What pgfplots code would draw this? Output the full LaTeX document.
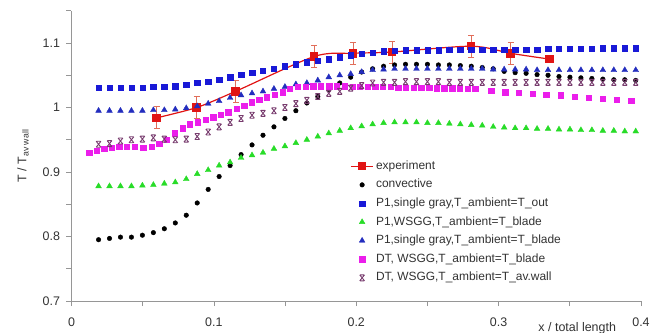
\documentclass[border=0pt]{standalone}
\usepackage{pgfplots}
\pgfplotsset{compat=1.18}
\usepackage{pgfplotstable}
\usepackage{fontspec}
\setmainfont{Liberation Sans}

\definecolor{cBlueSq}{RGB}{25,25,215}
\definecolor{cBlueTri}{RGB}{35,45,190}
\definecolor{cGreen}{RGB}{40,220,40}
\definecolor{cMag}{RGB}{235,30,235}
\definecolor{cPur}{RGB}{120,60,110}
\definecolor{cRed}{RGB}{225,20,20}
\definecolor{cErr}{RGB}{225,110,90}
\definecolor{cAxis}{RGB}{150,150,150}
\definecolor{cText}{RGB}{50,50,50}

\pgfdeclareplotmark{hx}{%
  \pgfpathmoveto{\pgfqpoint{-0.8\pgfplotmarksize}{-\pgfplotmarksize}}%
  \pgfpathlineto{\pgfqpoint{0.8\pgfplotmarksize}{\pgfplotmarksize}}%
  \pgfpathmoveto{\pgfqpoint{-0.8\pgfplotmarksize}{\pgfplotmarksize}}%
  \pgfpathlineto{\pgfqpoint{0.8\pgfplotmarksize}{-\pgfplotmarksize}}%
  \pgfpathmoveto{\pgfqpoint{-0.7\pgfplotmarksize}{\pgfplotmarksize}}%
  \pgfpathlineto{\pgfqpoint{0.7\pgfplotmarksize}{\pgfplotmarksize}}%
  \pgfpathmoveto{\pgfqpoint{-0.7\pgfplotmarksize}{-\pgfplotmarksize}}%
  \pgfpathlineto{\pgfqpoint{0.7\pgfplotmarksize}{-\pgfplotmarksize}}%
  \pgfusepathqstroke}

\pgfplotstableread{
x y e
0.0598 0.984 0.017
0.0879 1.000 0.017
0.1152 1.025 0.017
0.1704 1.079 0.017
0.1978 1.084 0.017
0.2251 1.086 0.017
0.2808 1.095 0.017
0.3084 1.084 0.017
0.3358 1.075 0
}\expt

\pgfplotstableread{
x bsq btri gtri blk pur
0.0190 1.031 0.995 0.878 0.795 0.943
0.0267 1.031 0.995 0.878 0.797 0.944
0.0344 1.031 0.995 0.878 0.799 0.948
0.0421 1.031 0.995 0.878 0.799 0.950
0.0498 1.031 0.995 0.879 0.802 0.951
0.0575 1.032 0.996 0.880 0.806 0.953
0.0652 1.032 0.996 0.882 0.812 0.951
0.0729 1.033 0.997 0.884 0.821 0.950
0.0806 1.035 0.999 0.889 0.833 0.951
0.0883 1.038 1.002 0.897 0.852 0.955
0.0960 1.040 1.006 0.903 0.873 0.962
0.1037 1.043 1.010 0.910 0.893 0.970
0.1114 1.047 1.015 0.915 0.910 0.977
0.1191 1.051 1.019 0.922 0.927 0.983
0.1268 1.054 1.022 0.926 0.942 0.988
0.1345 1.057 1.025 0.930 0.957 0.991
0.1422 1.060 1.029 0.936 0.970 0.995
0.1499 1.064 1.032 0.940 0.983 1.000
0.1576 1.067 1.036 0.945 0.995 1.006
0.1653 1.070 1.038 0.950 1.007 1.011
0.1730 1.073 1.042 0.955 1.017 1.017
0.1807 1.075 1.047 0.960 1.028 1.022
0.1884 1.078 1.050 0.964 1.038 1.025
0.1961 1.081 1.052 0.968 1.047 1.030
0.2038 1.083 1.055 0.971 1.055 1.034
0.2115 1.085 1.058 0.974 1.060 1.038
0.2192 1.087 1.059 0.976 1.064 1.039
0.2269 1.088 1.060 0.977 1.066 1.039
0.2346 1.089 1.060 0.977 1.067 1.040
0.2423 1.089 1.060 0.977 1.067 1.040
0.2500 1.089 1.060 0.976 1.067 1.040
0.2577 1.089 1.060 0.976 1.066 1.040
0.2654 1.090 1.060 0.975 1.066 1.039
0.2731 1.090 1.060 0.974 1.065 1.039
0.2808 1.090 1.060 0.973 1.064 1.039
0.2885 1.090 1.060 0.972 1.062 1.039
0.2962 1.090 1.059 0.970 1.060 1.039
0.3039 1.090 1.059 0.969 1.056 1.039
0.3116 1.090 1.059 0.968 1.054 1.039
0.3193 1.090 1.059 0.968 1.053 1.039
0.3270 1.090 1.058 0.967 1.051 1.039
0.3347 1.091 1.058 0.967 1.050 1.039
0.3424 1.091 1.058 0.966 1.048 1.039
0.3501 1.091 1.058 0.966 1.047 1.039
0.3578 1.091 1.058 0.965 1.046 1.039
0.3655 1.091 1.058 0.965 1.045 1.039
0.3732 1.092 1.058 0.964 1.044 1.039
0.3809 1.092 1.058 0.964 1.043 1.039
0.3886 1.092 1.058 0.963 1.043 1.039
0.3963 1.092 1.058 0.963 1.042 1.039
}\sims

\pgfplotstableread{
x y
0.0125 0.930
0.0177 0.933
0.0230 0.936
0.0282 0.938
0.0335 0.939
0.0387 0.939
0.0446 0.939
0.0504 0.938
0.0563 0.939
0.0616 0.944
0.0668 0.950
0.0726 0.960
0.0780 0.968
0.0832 0.974
0.0886 0.977
0.0944 0.981
0.0995 0.985
0.1049 0.989
0.1100 0.993
0.1159 0.998
0.1213 1.003
0.1265 1.008
0.1318 1.012
0.1370 1.016
0.1428 1.020
0.1482 1.024
0.1533 1.029
0.1587 1.032
0.1646 1.032
0.1697 1.033
0.1751 1.033
0.1809 1.033
0.1861 1.033
0.1919 1.033
0.1973 1.032
0.2025 1.032
0.2079 1.032
0.2133 1.032
0.2187 1.032
0.2241 1.032
0.2295 1.031
0.2349 1.031
0.2403 1.031
0.2457 1.031
0.2511 1.031
0.2565 1.030
0.2619 1.030
0.2673 1.030
0.2727 1.030
0.2781 1.029
0.2835 1.029
0.2949 1.026
0.3047 1.024
0.3140 1.023
0.3241 1.021
0.3335 1.020
0.3435 1.019
0.3533 1.017
0.3632 1.015
0.3732 1.014
0.3830 1.012
0.3931 1.011
}\dtblade

\begin{document}
\begin{tikzpicture}
\begin{axis}[
  scale only axis, width=569.5bp, height=290.25bp,
  xmin=0, xmax=0.4, ymin=0.7, ymax=1.15,
  axis x line=bottom, axis y line=left,
  axis line style={cAxis, line width=0.7bp, -},
  xtick={0,0.1,0.2,0.3,0.4}, xticklabels={0,0.1,0.2,0.3,0.4},
  minor xtick={0.05,0.15,0.25,0.35},
  ytick={0.7,0.8,0.9,1,1.1}, yticklabels={0.7,0.8,0.9,1,1.1},
  minor ytick={0.75,0.85,0.95,1.05,1.15},
  tick style={cAxis, line width=0.7bp},
  major tick length=5bp, minor tick length=5bp,
  tick align=outside,
  ticklabel style={font=\fontsize{12.5}{14}\selectfont, text=cText},
  xticklabel style={yshift=-8bp},
  yticklabel style={xshift=-3bp},
  /pgf/number format/assume math mode=true,
  xlabel={x / total length},
  xlabel style={at={(axis description cs:0.888,-0.093)}, anchor=center, font=\fontsize{12.5}{14}\selectfont, text=cText},
  ylabel={T / T\textsubscript{av wall}},
  ylabel style={at={(axis description cs:-0.085,0.5)}, anchor=center, font=\fontsize{12.5}{14}\selectfont, text=cText},
  legend style={at={(axis description cs:0.489,0.497)}, anchor=north west, draw=none, fill=none, inner sep=0pt,
    font=\fontsize{12}{14}\selectfont, text=cText, cells={anchor=west},
    nodes={inner ysep=3.3bp, text height=9bp, text depth=3bp}},
  legend image code/.code={\draw[mark repeat=2,mark phase=2] plot coordinates {(0cm,0cm) (0.4cm,0cm) (0.8cm,0cm)};},
]
\addplot[cRed, line width=1.2bp, smooth, mark=square*, mark size=3.6bp, mark options={solid, fill=cRed},
  error bars/.cd, y dir=both, y explicit,
  error bar style={cErr, line width=0.8bp},
  error mark options={cErr, rotate=90, mark size=3bp, line width=0.8bp}]
  table[x=x, y=y, y error=e]{\expt};
\addlegendentry{experiment}
\addplot[only marks, mark=*, mark size=2.3bp, black] table[x=x, y=blk]{\sims};
\addlegendentry{convective}
\addplot[only marks, mark=square*, mark size=2.7bp, cBlueSq] table[x=x, y=bsq]{\sims};
\addlegendentry{P1,single gray,T\_ambient=T\_out}
\addplot[only marks, mark=triangle*, mark size=3.3bp, cGreen] table[x=x, y=gtri]{\sims};
\addlegendentry{P1,WSGG,T\_ambient=T\_blade}
\addplot[only marks, mark=triangle*, mark size=3.3bp, cBlueTri] table[x=x, y=btri]{\sims};
\addlegendentry{P1,single gray,T\_ambient=T\_blade}
\addplot[only marks, mark=square*, mark size=2.7bp, cMag] table[x=x, y=y]{\dtblade};
\addlegendentry{DT, WSGG,T\_ambient=T\_blade}
\addplot[only marks, mark=hx, mark size=3bp, line width=0.9bp, cPur] table[x=x, y=pur]{\sims};
\addlegendentry{DT, WSGG,T\_ambient=T\_av.wall}
\coordinate (SW) at (rel axis cs:0,0);
\end{axis}
\pgfresetboundingbox
\path (SW) ++(-71.5bp,-32bp) rectangle ++(652bp,333bp);
\end{tikzpicture}
\end{document}
